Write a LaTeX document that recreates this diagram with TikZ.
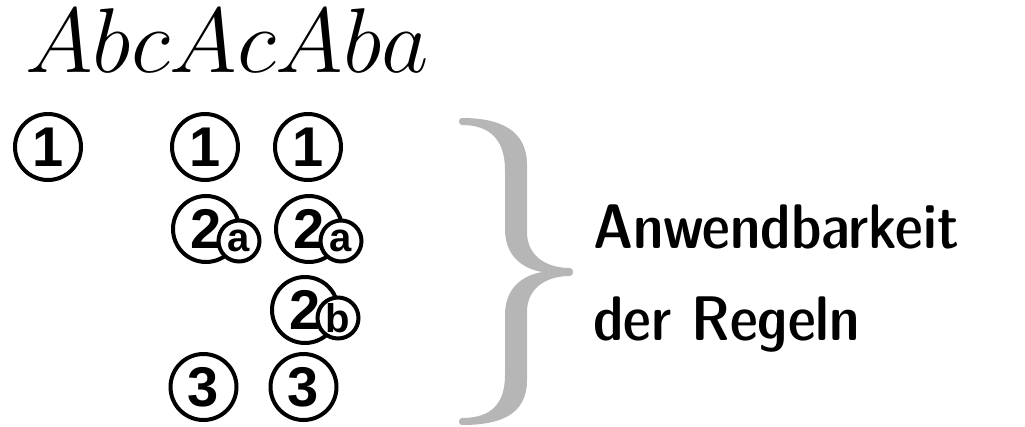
\documentclass[tikz,border=0pt]{standalone}
\usepackage{fix-cm}
\usepackage{fontspec}
\newfontfamily\numfont{Liberation Sans}
\definecolor{bracegray}{RGB}{182,182,182}
\tikzset{
  numc/.style={circle,draw=black,line width=4pt,inner sep=0pt,minimum size=66pt,
    font=\numfont\bfseries\fontsize{56}{60}\selectfont},
  subc/.style={circle,draw=black,fill=white,line width=4pt,inner sep=0pt,minimum size=41pt,
    font=\numfont\bfseries\fontsize{40}{44}\selectfont},
  labeltext/.style={anchor=base west,inner sep=0pt,
    font=\sffamily\fontseries{sbc}\fontsize{63}{70}\selectfont},
}
\begin{document}
\begin{tikzpicture}[x=1pt,y=-1pt]
\useasboundingbox (0,0) rectangle (1025,426);
% word
\node[anchor=base west,inner sep=0pt,font=\fontsize{92}{100}\selectfont] (word) at (25,72) {$AbcAcAba$};
% column 1
\node[numc] (a1) at (48,147) {1};
% column 2
\node[numc] (b1) at (205,147) {1};
\node[numc] (b2) at (206,229) {2};
\node[subc] (b2a) at (239,241) {a};
\node[numc] (b3) at (203.5,387) {3};
% column 3
\node[numc] (c1) at (308,147) {1};
\node[numc] (c2) at (309,229) {2};
\node[subc] (c2a) at (341,241) {a};
\node[numc] (c2b) at (305,310) {2};
\node[subc] (c2bb) at (338,318) {b};
\node[numc] (c3) at (303.5,387) {3};
% brace
\fill[bracegray]
  (462,118) .. controls (500,118) and (527,130) .. (527,165)
  -- (527,232)
  .. controls (527,255) and (545,268) .. (570,268)
  .. controls (574,268) and (574,276) .. (570,276)
  .. controls (545,276) and (527,289) .. (527,312)
  -- (527,380)
  .. controls (527,415) and (500,425) .. (462,425)
  .. controls (458,425) and (458,418) .. (462,418)
  .. controls (490,418) and (505,405) .. (505,375)
  -- (505,315)
  .. controls (505,290) and (520,276) .. (542,272)
  .. controls (520,268) and (505,254) .. (505,229)
  -- (505,170)
  .. controls (505,140) and (490,125) .. (462,125)
  .. controls (458,125) and (458,118) .. (462,118) -- cycle;
% label
\node[labeltext] (l1) at (593,248) {Anwendbarkeit};
\node[labeltext] (l2) at (593,340) {der Regeln};
\end{tikzpicture}
\end{document}
